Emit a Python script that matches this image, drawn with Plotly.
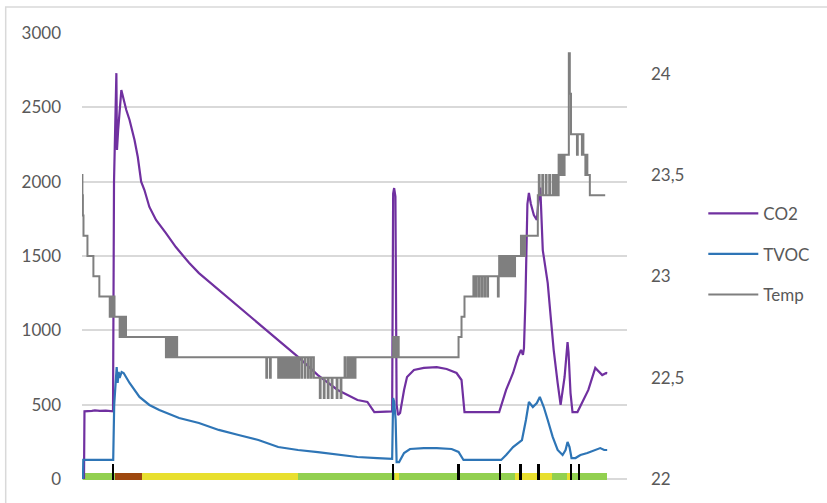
import plotly.graph_objects as go

# ---------------- data (x = sample index) ----------------
co2_t = [2, 2.5, 10, 13, 18, 24, 31.3, 32.3, 34.7, 35.3, 36.5, 38, 39.7, 44.7, 48, 53, 56.3, 59.7,
         63, 68, 74.7, 84.7, 94.7, 101, 108, 118, 138, 158, 178, 198, 218, 238, 258, 278, 288, 295,
         313, 314, 315, 316.3, 317.5, 319, 321, 325, 328, 335, 345, 358, 368, 378, 383, 386,
         421, 428, 435, 440, 443, 445, 446, 447.5, 449.5, 451, 453, 456, 459, 461, 462.5,
         465, 470, 473, 476, 480, 483, 487, 490, 491, 493, 495, 500, 505, 511, 518, 521, 525, 529, 530]
co2_v = [0, 455, 458, 462, 458, 460, 455, 2000, 2730, 2213, 2350, 2480, 2616, 2482, 2415, 2280, 2166, 2000,
         1944, 1830, 1742, 1654, 1560, 1510, 1455, 1385, 1271, 1157, 1049, 935, 821, 699, 599, 531, 518, 450,
         455, 1920, 1957, 1900, 500, 430, 444, 599, 686, 733, 747, 753, 740, 713, 666, 450,
         450, 599, 713, 821, 868, 835, 880, 1200, 1850, 1924, 1850, 1775, 1742, 1900, 1960,
         1540, 1318, 1090, 868, 646, 498, 686, 921, 850, 578, 450, 450, 518, 599, 747, 727, 699, 713, 710]

tvoc_t = [1, 1.3, 31, 31.5, 32.5, 35, 36, 37, 38, 40, 42, 48, 58, 68, 78, 98, 118, 138, 158, 178,
          198, 218, 238, 258, 278, 298, 312, 313, 314, 315, 316.5, 317.5, 320, 325, 331, 345, 358,
          373, 380, 385, 423, 428, 435, 440, 444, 448, 451, 455, 459, 462, 466, 470, 475, 480,
          485, 488, 490, 492, 494, 498, 503, 510, 518, 523, 527, 530]
tvoc_v = [0, 128, 128, 128, 500, 753, 646, 720, 680, 720, 713, 646, 552, 498, 464, 410, 377, 330, 296, 262,
          215, 195, 181, 165, 148, 140, 135, 135, 545, 520, 400, 114, 114, 175, 202, 208, 208,
          202, 182, 128, 128, 161, 215, 242, 262, 397, 518, 484, 511, 552, 484, 397, 283, 195,
          161, 195, 249, 215, 141, 141, 161, 175, 195, 208, 195, 195]

temp_t = [0, 0.4, 0.9, 1.5, 5.5, 11.5, 17.5,
          28, 28.8, 29.6, 30.4, 31.2, 32, 32.8,
          38, 38.8, 39.6, 40.4, 41.2, 42, 42.8, 43.6, 44.4,
          84.7, 85.5, 86.5, 87.3,
          88, 88.8, 89.6, 90.4, 91.2, 92, 92.8, 93.6, 94.4, 95.2, 96,
          186, 186.8, 189.7, 190.5,
          198, 199, 200, 201, 202, 203, 204, 205, 206, 207, 208, 209, 210, 211, 212, 213, 214, 215,
          216, 217, 218, 219,
          221.3, 222.1, 224.7, 225.5, 228, 228.8, 231, 231.8,
          234, 240, 240.8, 244, 244.8, 248, 248.8, 252, 252.8, 257, 257.8, 261, 261.8, 265, 265.8,
          268, 269, 270, 271, 272, 273, 274, 275, 276,
          314, 314.8, 315.6, 316.4, 317.2, 318, 318.8, 319.6,
          380, 383, 386, 395,
          397, 397.8, 400, 400.8, 403, 403.8, 406, 406.8, 409, 409.8, 419.7, 420.5,
          421, 422, 423, 424, 425, 426, 427, 428, 429, 430, 431, 432, 433, 434, 435, 436, 437,
          443, 444, 445, 446, 447,
          460, 461, 461.8, 464.5, 465.3, 468, 468.8, 471.5, 472.3,
          475, 476, 477, 478, 479, 480,
          481, 482, 483, 484, 485, 486, 487,
          491.3, 492.3, 493.5, 499.5, 500.3, 504.5, 505.3, 506,
          508, 509, 510, 512.5, 528]
temp_v = [23.5, 23.4, 23.3, 23.2, 23.1, 23.0, 22.9,
          22.8, 22.9, 22.8, 22.9, 22.8, 22.9, 22.8,
          22.7, 22.8, 22.7, 22.8, 22.7, 22.8, 22.7, 22.8, 22.7,
          22.6, 22.7, 22.6, 22.7,
          22.6, 22.7, 22.6, 22.7, 22.6, 22.7, 22.6, 22.7, 22.6, 22.7, 22.6,
          22.5, 22.6, 22.5, 22.6,
          22.5, 22.6, 22.5, 22.6, 22.5, 22.6, 22.5, 22.6, 22.5, 22.6, 22.5, 22.6, 22.5, 22.6, 22.5, 22.6,
          22.5, 22.6, 22.5, 22.6, 22.5, 22.6,
          22.5, 22.6, 22.5, 22.6, 22.5, 22.6, 22.5, 22.6,
          22.5, 22.4, 22.5, 22.4, 22.5, 22.4, 22.5, 22.4, 22.5, 22.4, 22.5, 22.4, 22.5, 22.6, 22.5,
          22.6, 22.5, 22.6, 22.5, 22.6, 22.5, 22.6, 22.5, 22.6,
          22.7, 22.6, 22.7, 22.6, 22.7, 22.6, 22.7, 22.6,
          22.7, 22.8, 22.9, 23.0,
          22.9, 23.0, 22.9, 23.0, 22.9, 23.0, 22.9, 23.0, 22.9, 23.0, 22.9, 23.0,
          23.1, 23.0, 23.1, 23.0, 23.1, 23.0, 23.1, 23.0, 23.1, 23.0, 23.1, 23.0, 23.1, 23.0, 23.1, 23.0, 23.1,
          23.2, 23.1, 23.2, 23.1, 23.2,
          23.4, 23.5, 23.4, 23.5, 23.4, 23.5, 23.4, 23.5, 23.4,
          23.5, 23.4, 23.5, 23.4, 23.5, 23.4,
          23.6, 23.5, 23.6, 23.5, 23.6, 23.5, 23.6,
          24.1, 23.9, 23.7, 23.6, 23.7, 23.6, 23.7, 23.6,
          23.5, 23.6, 23.5, 23.4, 23.4]

# status strip along the bottom
strip_start = [0.5, 33, 61, 218, 315.5, 320, 437, 474, 489, 492.5]
strip_end = [33, 61, 218, 315.5, 320, 437, 474, 489, 492.5, 530]
strip_color = ["#92D050", "#9E480E", "#E8DF2E", "#92D050", "#E8DF2E",
               "#92D050", "#E8DF2E", "#92D050", "#E8DF2E", "#92D050"]
strip_low, strip_high = -10, 38

# event markers (black ticks)
event_t = [31, 314, 380, 422, 442.5, 461, 493.5, 501.8]
event_w = [2.2, 2.5, 2, 2, 4, 2, 2, 2]
event_high = 100

left_ticks = [0, 500, 1000, 1500, 2000, 2500, 3000]
right_tickvals = [22, 22.5, 23, 23.5, 24]
right_ticktext = ["22", "22,5", "23", "23,5", "24"]

# ---------------- figure ----------------
FONT = "Lato"
TXT = "#595959"
GRID = "#D9D9D9"

fig = go.Figure()

fig.add_trace(go.Bar(
    x=[(a + b) / 2 for a, b in zip(strip_start, strip_end)],
    width=[b - a for a, b in zip(strip_start, strip_end)],
    y=[strip_high - strip_low] * len(strip_start), base=strip_low,
    marker=dict(color=strip_color, line=dict(width=0)),
    showlegend=False, hoverinfo="skip"))

fig.add_trace(go.Bar(
    x=event_t, width=event_w,
    y=[event_high - strip_low] * len(event_t), base=strip_low,
    marker=dict(color="black", line=dict(width=0)),
    showlegend=False, hoverinfo="skip"))

fig.add_trace(go.Scatter(x=co2_t, y=co2_v, mode="lines", name="CO2",
                         line=dict(color="#7030A0", width=2.2), legendgroup="a"))
fig.add_trace(go.Scatter(x=tvoc_t, y=tvoc_v, mode="lines", name="TVOC",
                         line=dict(color="#2E75B6", width=2.2), legendgroup="b"))
fig.add_trace(go.Scatter(x=temp_t, y=temp_v, mode="lines", name="Temp", yaxis="y2",
                         line=dict(color="#7F7F7F", width=2, shape="hv"), legendgroup="c"))

# plot area: left 82, right 632, top 33, bottom 481 (0 value at pixel 479)
W, H = 827, 503
L, R, T, B = 82, 632, 33, 481
per_px_left = 3000 / (479 - T)
per_px_right = 2.2 / (479 - T)
y_lo = -(B - 479) * per_px_left
y2_lo = 22 - (B - 479) * per_px_right

fig.update_layout(
    width=W, height=H,
    margin=dict(l=L, r=W - R, t=T, b=H - B, pad=0),
    paper_bgcolor="white", plot_bgcolor="white",
    barmode="overlay", bargap=0,
    font=dict(family=FONT, size=17, color=TXT),
    xaxis=dict(range=[0, 550], showgrid=False, zeroline=False, showticklabels=False,
               showline=False, ticks=""),
    yaxis=dict(range=[y_lo, 3000], tickvals=left_ticks, ticktext=[str(v) for v in left_ticks],
               showgrid=True, gridcolor=GRID, gridwidth=1.5, zeroline=False, showline=False,
               ticks="", ticklabelstandoff=20, automargin=False, tickfont=dict(size=17, color=TXT)),
    yaxis2=dict(range=[y2_lo, 24.2], overlaying="y", side="right",
                tickvals=right_tickvals, ticktext=right_ticktext,
                showgrid=False, zeroline=False, showline=False, ticks="", automargin=False,
                ticklabelstandoff=23, tickfont=dict(size=17, color=TXT)),
    legend=dict(x=(709 - L) / (R - L), y=(479 - 195) / (479 - T), xanchor="left", yanchor="top",
                traceorder="grouped", tracegroupgap=15.5, itemwidth=50,
                font=dict(family=FONT, size=17, color=TXT), bgcolor="rgba(0,0,0,0)"),
    shapes=[dict(type="rect", xref="paper", yref="paper",
                 x0=(5 - L) / (R - L), x1=1.6, y0=-0.3, y1=(479 - 7) / (479 - T),
                 line=dict(color=GRID, width=1.5), fillcolor="rgba(0,0,0,0)", layer="above")],
)

fig.write_html("out.html", config={"displayModeBar": False},
               post_script="document.body.style.margin='0';document.body.style.padding='0';")
